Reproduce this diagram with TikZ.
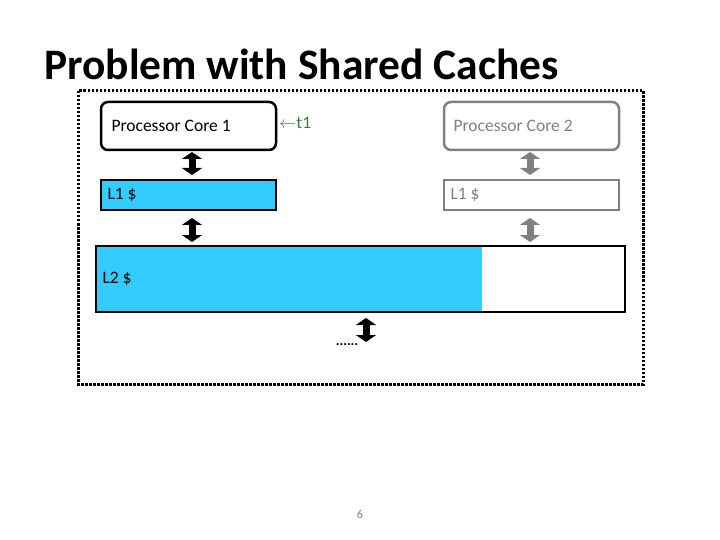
\documentclass[tikz,border=0pt]{standalone}
\usepackage{fontspec}
\setmainfont{Carlito}
\usetikzlibrary{arrows.meta}
\definecolor{cachefill}{HTML}{33CCFF}
\definecolor{tgreen}{HTML}{3C7A3C}
\definecolor{coregray}{HTML}{808080}
\tikzset{
    corebox/.style = {draw, rounded corners=7pt, line width=2.5pt},
    cachebox/.style = {draw, line width=2.5pt},
    link/.style = {line width=7pt, {Triangle[width=20pt,length=7pt]}-{Triangle[width=20pt,length=7pt]}},
    label/.style = {anchor=west, font=\fontsize{17.5}{20}\selectfont},
}
\begin{document}
\begin{tikzpicture}[x=1pt, y=-1pt]
    \useasboundingbox (0,0) rectangle (720,540);
    % Title
    \node[anchor=base west, inner sep=0, font=\fontsize{43.5}{50}\selectfont\bfseries] (title) at (44,80) {Problem with Shared Caches};

    % Frame
    \draw[line width=3pt, dash pattern=on 2.5pt off 1.5pt] (78,91) rectangle (643,384);

    % Cores
    \draw[corebox] (101,102) rectangle (276,150);
    \node[label] (core1) at (108,126) {Processor Core 1};
    \draw[corebox, coregray] (444,102) rectangle (619,150);
    \node[label, coregray] (core2) at (450,126) {Processor Core 2};
    \node[label, tgreen, inner sep=0] (t1) at (279,123) {$\leftarrow$t1};

    % L1 caches
    \draw[cachebox, fill=cachefill] (101,180) rectangle (276,210);
    \node[label] (l1a) at (104,195) {L1 \$};
    \draw[cachebox, coregray] (444,180) rectangle (619,210);
    \node[label, coregray] (l1b) at (447,195) {L1 \$};

    % L2 cache
    \fill[cachefill] (96,246) rectangle (482,312);
    \draw[cachebox] (96,246) rectangle (625,312);
    \node[label] (l2) at (99,279) {L2 \$};

    % Links
    \draw[link] (192,152) -- (192,175);
    \draw[link] (192,218) -- (192,242);
    \draw[link, coregray] (530,152) -- (530,175);
    \draw[link, coregray] (530,218) -- (530,242);
    \draw[link] (366,318) -- (366,342);
    \node[inner sep=0, font=\fontsize{14}{16}\selectfont\bfseries] (dots) at (347,345) {......};

    % Page number
    \node[coregray, font=\fontsize{12}{14}\selectfont] (page) at (360,514) {6};
\end{tikzpicture}
\end{document}
